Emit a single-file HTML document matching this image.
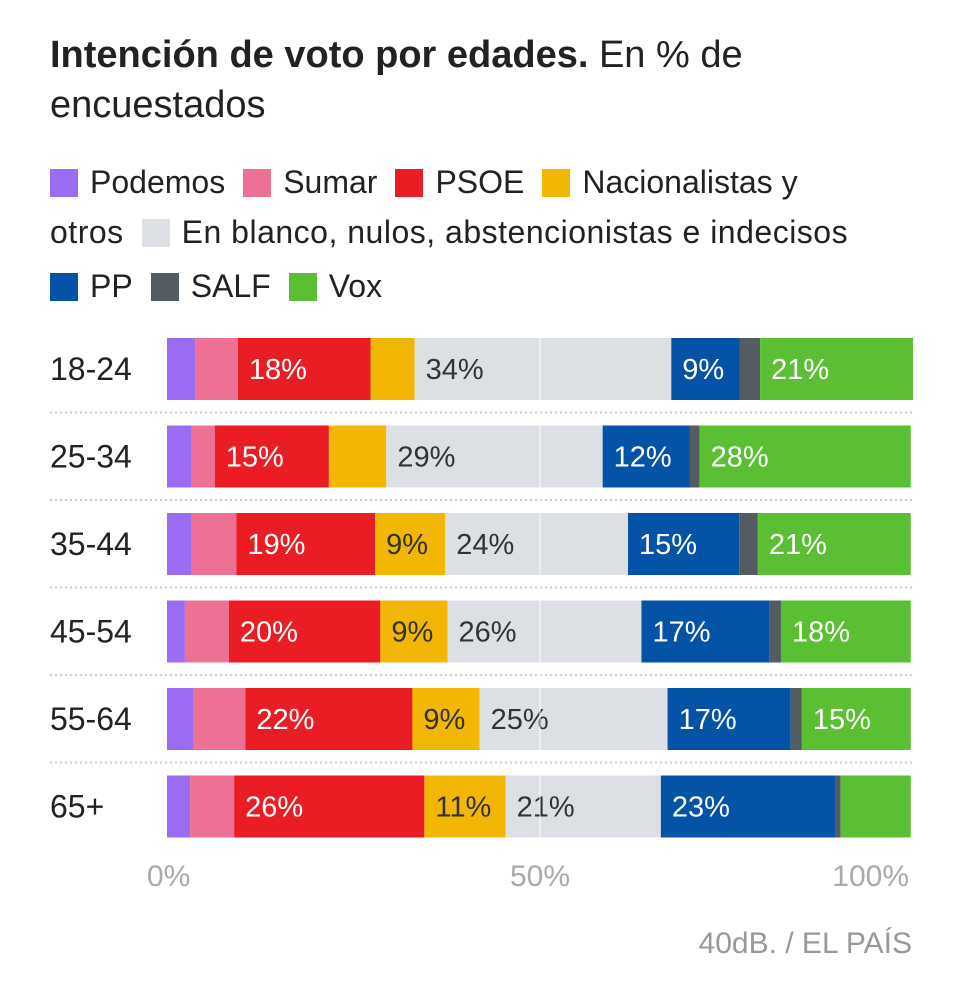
<!DOCTYPE html>
<html><head><meta charset="utf-8"><style>
body{margin:0;background:#fff;font-family:"Liberation Sans",sans-serif;color:#222;}
#wrap{position:relative;width:963px;height:1000px;overflow:hidden;}
.t{position:absolute;white-space:nowrap;}
.sq{display:inline-block;width:28px;height:28px;vertical-align:-4px;margin-right:12px;}
.leg{position:absolute;font-size:32px;color:#222;white-space:nowrap;}
.gap{display:inline-block;width:18px;}
</style></head><body>
<div id="wrap">
<div class="t" style="left:50px;top:30px;font-size:38px;line-height:50px;"><b>Intención de voto por edades.</b> En % de<br>encuestados</div>
<div class="leg" style="left:50px;top:164px;">
<span><span class="sq" style="background:#9b6bf2"></span>Podemos</span><span class="gap"></span><span><span class="sq" style="background:#ec7195"></span>Sumar</span><span class="gap"></span><span><span class="sq" style="background:#ea1c24"></span>PSOE</span><span class="gap"></span><span><span class="sq" style="background:#f2b705"></span>Nacionalistas y</span></div>
<div class="leg" style="left:50px;top:214px;letter-spacing:0.5px;">otros<span class="gap"></span><span><span class="sq" style="background:#dce0e4"></span>En blanco, nulos, abstencionistas e indecisos</span></div>
<div class="leg" style="left:50px;top:268px;">
<span><span class="sq" style="background:#0453a6"></span>PP</span><span class="gap"></span><span><span class="sq" style="background:#535c60"></span>SALF</span><span class="gap"></span><span><span class="sq" style="background:#5bbf34"></span>Vox</span></div>
<svg id="svg" width="963" height="1000" style="position:absolute;left:0;top:0"></svg>
<div class="t" style="right:51px;top:927px;font-size:30px;color:#999;">40dB. / EL PAÍS</div>
</div>
<script>
const categories=["18-24","25-34","35-44","45-54","55-64","65+"];
const podemos=[3.8,3.3,3.3,2.4,3.6,3.1];
const sumar=[5.7,3.1,6.0,5.9,6.9,5.9];
const psoe=[17.8,15.3,18.6,20.3,22.4,25.5];
const nacionalistas=[5.9,7.7,9.4,9.0,9.0,10.9];
const blanco=[34.4,29.0,24.5,26.0,25.2,20.8];
const pp=[9.2,11.7,14.9,17.2,16.5,23.4];
const salf=[2.7,1.3,2.5,1.5,1.5,0.7];
const vox=[20.5,28.3,20.5,17.4,14.6,9.4];
const psoeLabels=["18%","15%","19%","20%","22%","26%"];
const nacLabels=["","","9%","9%","9%","11%"];
const blancoLabels=["34%","29%","24%","26%","25%","21%"];
const ppLabels=["9%","12%","15%","17%","17%","23%"];
const voxLabels=["21%","28%","21%","18%","15%",""];
const ticks=[0,50,100];
const tickLabels=["0%","50%","100%"];
const NS="http://www.w3.org/2000/svg";
const svg=document.getElementById("svg");
const x0=167,x1=913;
const xs=v=>x0+(x1-x0)*v/100;
const rowY=i=>338+i*87.5;
const barH=62;
const series=[
 {name:"podemos",vals:podemos,color:"#9b6bf2",labels:null,tc:"#fff"},
 {name:"sumar",vals:sumar,color:"#ec7195",labels:null,tc:"#fff"},
 {name:"psoe",vals:psoe,color:"#ea1c24",labels:psoeLabels,tc:"#fff"},
 {name:"nacionalistas",vals:nacionalistas,color:"#f2b705",labels:nacLabels,tc:"#333"},
 {name:"blanco",vals:blanco,color:"#dce0e4",labels:blancoLabels,tc:"#333"},
 {name:"pp",vals:pp,color:"#0453a6",labels:ppLabels,tc:"#fff"},
 {name:"salf",vals:salf,color:"#535c60",labels:null,tc:"#fff"},
 {name:"vox",vals:vox,color:"#5bbf34",labels:voxLabels,tc:"#fff"}];
categories.forEach((c,i)=>{
 const y=rowY(i);
 const lab=document.createElementNS(NS,"text");
 
 
 lab.setAttribute("x",50);lab.setAttribute("y",y+barH/2+11);
 lab.setAttribute("font-size","32");lab.setAttribute("fill","#222");
 lab.setAttribute("font-family","Liberation Sans, sans-serif");
 lab.textContent=c;svg.appendChild(lab);
 if(i>0){const l=document.createElementNS(NS,"line");
  
  
  l.setAttribute("x1",50);l.setAttribute("x2",912);l.setAttribute("y1",y-13);l.setAttribute("y2",y-13);
  l.setAttribute("stroke","#ccc");l.setAttribute("stroke-width","2");l.setAttribute("stroke-dasharray","2 3");svg.appendChild(l);}
 let acc=0;
 series.forEach(s=>{
  const v=s.vals[i];
  const r=document.createElementNS(NS,"rect");
  
  
  r.setAttribute("x",xs(acc));r.setAttribute("y",y);
  r.setAttribute("width",xs(acc+v)-xs(acc));r.setAttribute("height",barH);
  r.setAttribute("fill",s.color);svg.appendChild(r);
  if(s.labels&&s.labels[i]){
   const t=document.createElementNS(NS,"text");
   
   
   t.setAttribute("x",xs(acc)+11);t.setAttribute("y",y+barH/2+10);
   t.setAttribute("font-size","29");t.setAttribute("fill",s.tc);
   t.setAttribute("font-family","Liberation Sans, sans-serif");
   t.textContent=s.labels[i];svg.appendChild(t);}
  acc+=v;});
});
const g=document.createElementNS(NS,"line");


g.setAttribute("x1",xs(50));g.setAttribute("x2",xs(50));g.setAttribute("y1",338);g.setAttribute("y2",rowY(5)+barH);
g.setAttribute("stroke","#fff");g.setAttribute("stroke-opacity","0.6");g.setAttribute("stroke-width","1.5");svg.appendChild(g);
ticks.forEach((v,k)=>{
 const t=document.createElementNS(NS,"text");
 
 
 let x=xs(v),a="middle";
 if(v===0){x=xs(v)-20;a="start";} if(v===100){x=xs(v)-4;a="end";}
 t.setAttribute("x",x);t.setAttribute("y",886);t.setAttribute("text-anchor",a);
 t.setAttribute("font-size","30");t.setAttribute("fill","#aaa");
 t.setAttribute("font-family","Liberation Sans, sans-serif");
 t.textContent=tickLabels[k];svg.appendChild(t);});
</script>
</body></html>
